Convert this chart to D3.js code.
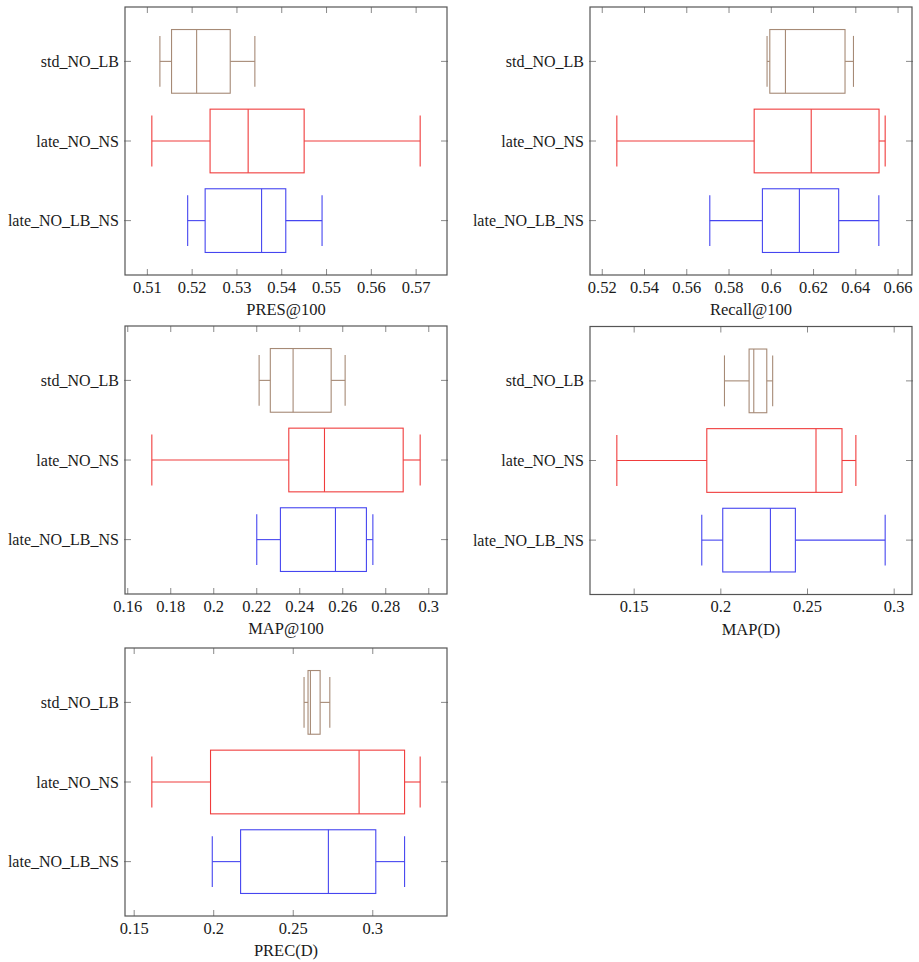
<!DOCTYPE html>
<html>
<head>
<meta charset="utf-8">
<script src="https://cdn.jsdelivr.net/npm/d3@7"></script>
<style>
  body { margin: 0; background: #fff; }
</style>
</head>
<body>
<svg id="chart" width="919" height="962"></svg>
<script>
// Rows, top to bottom
const categories = ['std_NO_LB', 'late_NO_NS', 'late_NO_LB_NS'];
const colors = ['#a68a76', '#f03c3c', '#4646f0'];

// Five-number summaries per metric: [low whisker, q1, median, q3, high whisker]
const presAt100 = [
  [0.5128, 0.5154, 0.5210, 0.5285, 0.5340],
  [0.5110, 0.5240, 0.5325, 0.5450, 0.5709],
  [0.5190, 0.5229, 0.5355, 0.5409, 0.5490]
];
const recallAt100 = [
  [0.5980, 0.5993, 0.6067, 0.6349, 0.6389],
  [0.5269, 0.5919, 0.6189, 0.6510, 0.6539],
  [0.5709, 0.5958, 0.6133, 0.6319, 0.6509]
];
const mapAt100 = [
  [0.2211, 0.2263, 0.2369, 0.2546, 0.2611],
  [0.1712, 0.2349, 0.2515, 0.2881, 0.2960],
  [0.2200, 0.2310, 0.2566, 0.2710, 0.2740]
];
const mapD = [
  [0.2021, 0.2163, 0.2190, 0.2265, 0.2299],
  [0.1400, 0.1919, 0.2549, 0.2699, 0.2779],
  [0.1890, 0.2011, 0.2286, 0.2430, 0.2948]
];
const precD = [
  [0.2568, 0.2593, 0.2608, 0.2669, 0.2730],
  [0.1611, 0.1980, 0.2914, 0.3200, 0.3298],
  [0.1991, 0.2169, 0.2721, 0.3019, 0.3200]
];

// Tick values per panel
const presTicks = [0.51, 0.52, 0.53, 0.54, 0.55, 0.56, 0.57];
const recallTicks = [0.52, 0.54, 0.56, 0.58, 0.6, 0.62, 0.64, 0.66];
const mapTicks = [0.16, 0.18, 0.2, 0.22, 0.24, 0.26, 0.28, 0.3];
const mapDTicks = [0.15, 0.2, 0.25, 0.3];
const precDTicks = [0.15, 0.2, 0.25, 0.3];

const panels = [
  { label: 'PRES@100', data: presAt100, ticks: presTicks, left: 125, top: 7 },
  { label: 'Recall@100', data: recallAt100, ticks: recallTicks, left: 590, top: 7 },
  { label: 'MAP@100', data: mapAt100, ticks: mapTicks, left: 125, top: 326 },
  { label: 'MAP(D)', data: mapD, ticks: mapDTicks, left: 590, top: 326.5 },
  { label: 'PREC(D)', data: precD, ticks: precDTicks, left: 125, top: 648 }
];

const pw = 322;   // plot width
const ph = 268;   // plot height
const tickLen = 6;
const boxHalf = 0.4;
const capHalf = 0.32;
const serif = '"Liberation Serif", "Times New Roman", "DejaVu Serif", serif';

const svg = d3.select('#chart');

panels.forEach(p => {
  const g = svg.append('g').attr('transform', `translate(${p.left},${p.top})`);

  // Enlarge data range by 10% on each side, like the pgfplots output
  const lo = d3.min(p.data, d => d[0]);
  const hi = d3.max(p.data, d => d[4]);
  const pad = (hi - lo) * 0.1;
  const x = d3.scaleLinear().domain([lo - pad, hi + pad]).range([0, pw]);
  const y = d3.scaleLinear().domain([0.317, 3.683]).range([0, ph]);

  // x ticks, drawn inside on bottom and top
  const fmt = v => String(+v.toFixed(2));
  g.selectAll('.xtb').data(p.ticks).join('line')
    .attr('x1', d => x(d)).attr('x2', d => x(d))
    .attr('y1', ph).attr('y2', ph - tickLen)
    .style('stroke', '#8a8a8a').style('stroke-width', 1);
  g.selectAll('.xtt').data(p.ticks).join('line')
    .attr('x1', d => x(d)).attr('x2', d => x(d))
    .attr('y1', 0).attr('y2', tickLen)
    .style('stroke', '#8a8a8a').style('stroke-width', 1);
  g.selectAll('.xl').data(p.ticks).join('text')
    .attr('x', d => x(d))
    .attr('y', ph + 17.5)
    .attr('text-anchor', 'middle')
    .attr('font-family', serif)
    .style('font-size', '16.5px')
    .style('fill', '#1a1a1a')
    .text(fmt);

  // y ticks on left and right
  const rows = categories.map((c, i) => i + 1);
  g.selectAll('.ytl').data(rows).join('line')
    .attr('x1', -1).attr('x2', tickLen)
    .attr('y1', d => y(d)).attr('y2', d => y(d))
    .style('stroke', '#8a8a8a').style('stroke-width', 1);
  g.selectAll('.ytr').data(rows).join('line')
    .attr('x1', pw - tickLen).attr('x2', pw + 1)
    .attr('y1', d => y(d)).attr('y2', d => y(d))
    .style('stroke', '#8a8a8a').style('stroke-width', 1);
  g.selectAll('.yl').data(categories).join('text')
    .attr('x', -6)
    .attr('y', (d, i) => y(i + 1) + 5.5)
    .attr('text-anchor', 'end')
    .attr('font-family', serif)
    .style('font-size', '16px')
    .style('fill', '#1a1a1a')
    .text(d => d);

  // Boxes
  p.data.forEach((s, i) => {
    const cy = i + 1;
    const col = colors[i];
    const bg = g.append('g')
      .style('stroke', col)
      .style('stroke-width', 1.1)
      .style('fill', 'none');
    // whiskers
    bg.append('line').attr('x1', x(s[0])).attr('x2', x(s[1])).attr('y1', y(cy)).attr('y2', y(cy));
    bg.append('line').attr('x1', x(s[3])).attr('x2', x(s[4])).attr('y1', y(cy)).attr('y2', y(cy));
    // caps
    [s[0], s[4]].forEach(v => {
      bg.append('line').attr('x1', x(v)).attr('x2', x(v))
        .attr('y1', y(cy - capHalf)).attr('y2', y(cy + capHalf));
    });
    // box
    bg.append('rect')
      .attr('x', x(s[1])).attr('width', x(s[3]) - x(s[1]))
      .attr('y', y(cy - boxHalf)).attr('height', y(cy + boxHalf) - y(cy - boxHalf));
    // median
    bg.append('line').attr('x1', x(s[2])).attr('x2', x(s[2]))
      .attr('y1', y(cy - boxHalf)).attr('y2', y(cy + boxHalf));
  });

  // Frame
  g.append('rect')
    .attr('width', pw).attr('height', ph)
    .style('fill', 'none')
    .style('stroke', '#555')
    .style('stroke-width', 1.2);

  // Axis label
  g.append('text')
    .attr('x', pw / 2)
    .attr('y', ph + 40)
    .attr('text-anchor', 'middle')
    .attr('font-family', serif)
    .style('font-size', '16.5px')
    .style('fill', '#1a1a1a')
    .text(p.label);
});
</script>
</body>
</html>
